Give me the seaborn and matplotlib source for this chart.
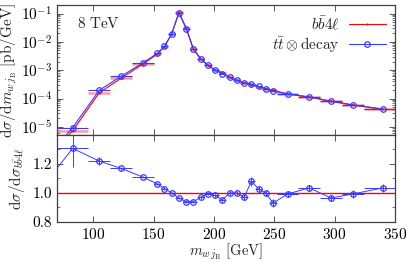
import numpy as np
import matplotlib
matplotlib.use("Agg")
import matplotlib.pyplot as plt
import seaborn as sns
from matplotlib.ticker import MultipleLocator, LogLocator, NullFormatter, FixedLocator

# ---- data ----
bin_edges = [52, 70, 96, 114, 132, 150, 156, 162, 168, 174, 180, 186, 192, 198,
             204, 210, 216, 222, 228, 234, 240, 246, 252, 270, 288, 306, 324, 356]
bin_centers = [61, 83, 105, 123, 141, 153, 159, 165, 171, 177, 183, 189, 195, 201,
               207, 213, 219, 225, 231, 237, 243, 249, 261, 279, 297, 315, 340]
xsec_bb4l = [7.1e-7, 7.3e-6, 1.6e-4, 5.2e-4, 1.62e-3, 3.67e-3, 6.8e-3, 1.9e-2, 0.110,
             0.0314, 5.74e-3, 2.58e-3, 1.49e-3, 1.02e-3, 8.0e-4, 5.6e-4, 4.4e-4,
             3.66e-4, 3.06e-4, 2.63e-4, 2.25e-4, 1.94e-4, 1.46e-4, 1.11e-4, 8.2e-5,
             5.94e-5, 4.15e-5]
xsec_ttdecay = [7.6e-7, 9.5e-6, 1.95e-4, 6.1e-4, 1.8e-3, 3.9e-3, 7.0e-3, 1.9e-2, 0.106,
                0.0295, 5.4e-3, 2.5e-3, 1.48e-3, 1.0e-3, 7.6e-4, 5.6e-4, 4.4e-4,
                3.55e-4, 3.3e-4, 2.7e-4, 2.25e-4, 1.8e-4, 1.45e-4, 1.15e-4, 7.9e-5,
                5.9e-5, 4.3e-5]
ratio = [1.075, 1.307, 1.22, 1.17, 1.11, 1.063, 1.03, 1.0, 0.965, 0.94, 0.94, 0.97,
         0.995, 0.983, 0.953, 1.0, 1.0, 0.97, 1.08, 1.028, 1.0, 0.93, 0.993, 1.035,
         0.965, 0.993, 1.035]
ratio_err = [0.1, 0.13, 0.025, 0.012, 0.01, 0.008, 0.008, 0.008, 0.006, 0.008, 0.008,
             0.01, 0.01, 0.012, 0.012, 0.014, 0.016, 0.02, 0.03, 0.02, 0.02, 0.03,
             0.02, 0.02, 0.022, 0.025, 0.03]
ratio_ticks = [0.8, 1.0, 1.2]
label_bb4l = r"$b\bar{b}4\ell$"
label_tt = r"$t\bar{t}\otimes\mathrm{decay}$"
energy_label = r"$8\ \mathrm{TeV}$"

sns.set_style("ticks")
plt.rcParams.update({
    "font.family": "serif",
    "font.serif": ["cmr10", "DejaVu Serif"],
    "mathtext.fontset": "cm",
    "axes.formatter.use_mathtext": True,
    "font.size": 11,
    "axes.edgecolor": "#404040",
    "axes.linewidth": 0.9,
    "xtick.direction": "in",
    "ytick.direction": "in",
    "xtick.top": True,
    "ytick.right": True,
})

edges = np.array(bin_edges, dtype=float)
xc = np.array(bin_centers, dtype=float)
xlo = xc - edges[:-1]
xhi = edges[1:] - xc
red = "#ff0000"
blue = "#3a3aff"

fig = plt.figure(figsize=(4.07, 2.63), dpi=100)
ax1 = fig.add_axes([0.140, 0.487, 0.8305, 0.494])
ax2 = fig.add_axes([0.140, 0.156, 0.8305, 0.331], sharex=ax1)

# main panel
ax1.errorbar(xc, xsec_bb4l, xerr=[xlo, xhi], fmt="none", ecolor="#ff9a9a",
             elinewidth=1.8, zorder=2)
sns.lineplot(x=xc, y=xsec_bb4l, ax=ax1, color=red, lw=0.8, marker=".", markersize=3,
             markeredgewidth=0, label=label_bb4l, sort=False, zorder=3)
ax1.errorbar(xc, xsec_ttdecay, xerr=[xlo, xhi],
             yerr=np.array(xsec_ttdecay) * 0.02, fmt="none", ecolor=blue,
             elinewidth=0.8, zorder=4)
sns.lineplot(x=xc, y=xsec_ttdecay, ax=ax1, color=blue, lw=0.8, marker="o",
             markersize=4, markerfacecolor="none", markeredgecolor=blue,
             markeredgewidth=0.9, label=label_tt, sort=False, zorder=5)
ax1.set_yscale("log")
ax1.set_ylim(5.2e-6, 0.2)
ax1.set_xlim(70, 350)
ax1.yaxis.set_major_locator(LogLocator(base=10, numticks=10))
ax1.yaxis.set_minor_locator(LogLocator(base=10, subs=np.arange(2, 10), numticks=20))
ax1.yaxis.set_minor_formatter(NullFormatter())
ax1.tick_params(axis="x", labelbottom=False)
ax1.set_ylabel(r"$\mathrm{d}\sigma/\mathrm{d}m_{w\,j_\mathrm{B}}\ [\mathrm{pb/GeV}]$",
               fontsize=11, labelpad=1)
ax1.text(0.06, 0.86, energy_label, transform=ax1.transAxes, fontsize=11,
         ha="left", va="center")
leg = ax1.legend(loc="upper right", frameon=False, markerfirst=False, fontsize=11,
                 handlelength=2.4, borderaxespad=0.2, labelspacing=0.2,
                 handletextpad=0.6)

# ratio panel
ax2.axhline(1.0, color=red, lw=1.0, zorder=2)
ax2.errorbar(xc, ratio, xerr=[xlo, xhi], yerr=ratio_err, fmt="none", ecolor=blue,
             elinewidth=0.7, zorder=3)
sns.lineplot(x=xc, y=ratio, ax=ax2, color=blue, lw=0.7, marker="o", markersize=4,
             markerfacecolor="none", markeredgecolor=blue, markeredgewidth=0.9,
             sort=False, zorder=4, legend=False)
ax2.set_ylim(0.8, 1.4)
ax2.set_xlim(70, 350)
ax2.yaxis.set_major_locator(FixedLocator(ratio_ticks))
ax2.yaxis.set_minor_locator(MultipleLocator(0.1))
ax2.yaxis.set_major_formatter(matplotlib.ticker.FormatStrFormatter("%.1f"))
ax2.xaxis.set_major_locator(MultipleLocator(50))
ax2.set_ylabel(r"$\mathrm{d}\sigma/\mathrm{d}\sigma_{b\bar{b}4\ell}$", fontsize=11,
               labelpad=4)
ax2.set_xlabel(r"$m_{w\,j_\mathrm{B}}\ [\mathrm{GeV}]$", fontsize=10.5, labelpad=0)

for ax in (ax1, ax2):
    ax.tick_params(which="both", direction="in", top=True, right=True,
                   colors="#404040", labelcolor="black", labelsize=11)
    ax.tick_params(which="major", length=4, width=0.6)
    ax.tick_params(which="minor", length=2, width=0.5)

fig.align_ylabels([ax1, ax2])
fig.savefig("out.png", dpi=100)
